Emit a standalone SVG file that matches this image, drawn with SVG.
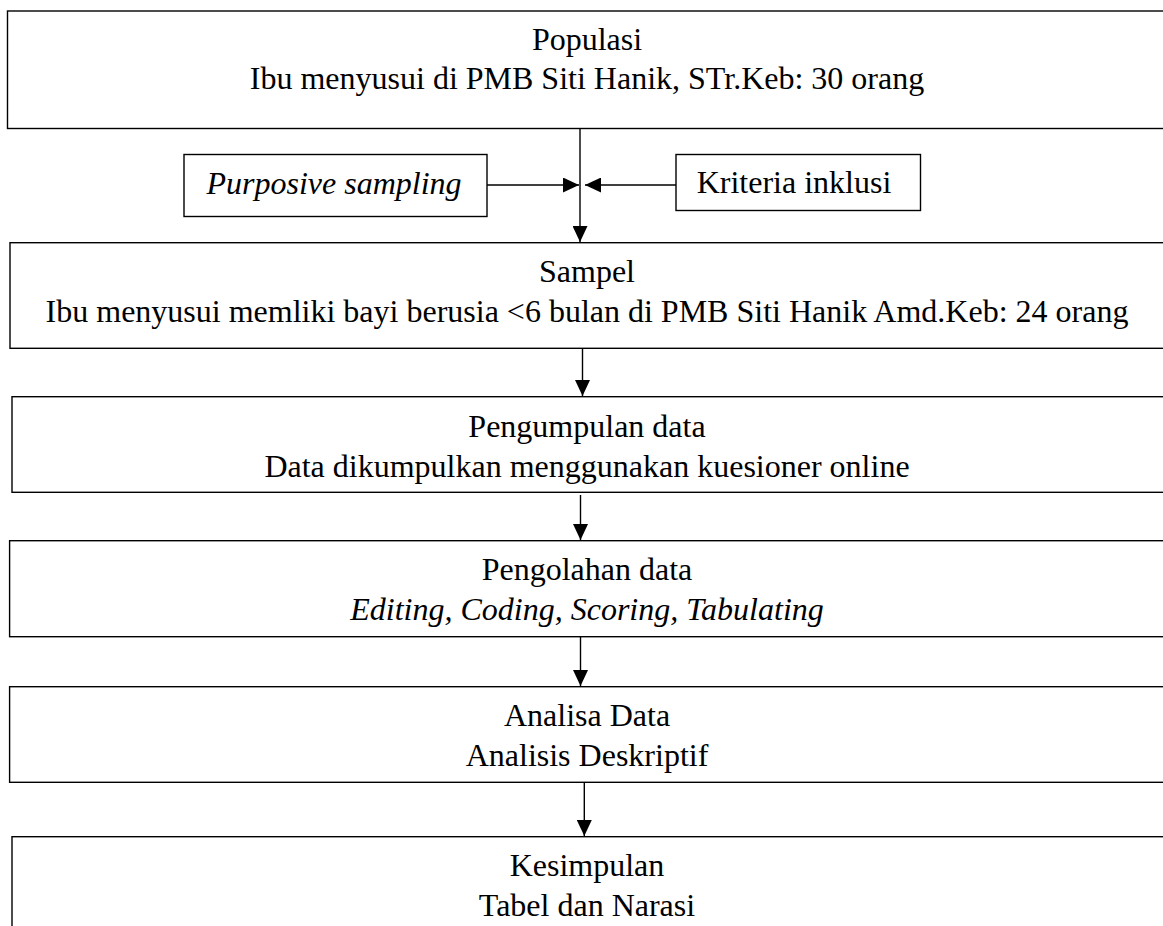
<svg xmlns="http://www.w3.org/2000/svg" width="1163" height="926" viewBox="0 0 1163 926">
<style>
  .box { fill: #ffffff; stroke: #000000; stroke-width: 1.4; }
  .t { font-family: "Liberation Serif", "Times New Roman", serif; font-size: 32px; fill: #000000; text-anchor: middle; }
  .i { font-style: italic; }
  .edge { stroke: #000000; stroke-width: 1.4; fill: none; marker-end: url(#arr); }
</style>
<defs>
  <marker id="arr" markerUnits="userSpaceOnUse" markerWidth="16" markerHeight="15" refX="16" refY="7.5" orient="auto">
    <path d="M0,0 L16,7.5 L0,15 Z" fill="#000000"/>
  </marker>
</defs>
<rect width="1163" height="926" fill="#ffffff"/>

<g id="populasi">
  <rect class="box" x="7.5" y="11" width="1165" height="117.5"/>
  <text class="t" x="587" y="50">Populasi</text>
  <text class="t" x="587" y="89">Ibu menyusui di PMB Siti Hanik, STr.Keb: 30 orang</text>
</g>

<g id="purposive">
  <rect class="box" x="184" y="154.5" width="303" height="62"/>
  <text class="t i" x="334" y="194">Purposive sampling</text>
</g>

<g id="kriteria">
  <rect class="box" x="676" y="154.5" width="244.5" height="56"/>
  <text class="t" x="794" y="193">Kriteria inklusi</text>
</g>

<g id="sampel">
  <rect class="box" x="10" y="242.7" width="1165" height="105.6"/>
  <text class="t" x="587" y="282">Sampel</text>
  <text class="t" x="587" y="322">Ibu menyusui memliki bayi berusia &lt;6 bulan di PMB Siti Hanik Amd.Keb: 24 orang</text>
</g>

<g id="pengumpulan">
  <rect class="box" x="12" y="396.7" width="1165" height="95.6"/>
  <text class="t" x="587" y="436.5">Pengumpulan data</text>
  <text class="t" x="587" y="476.5">Data dikumpulkan menggunakan kuesioner online</text>
</g>

<g id="pengolahan">
  <rect class="box" x="9.6" y="540.7" width="1165" height="96"/>
  <text class="t" x="587" y="580">Pengolahan data</text>
  <text class="t i" x="587" y="620">Editing, Coding, Scoring, Tabulating</text>
</g>

<g id="analisa">
  <rect class="box" x="9.6" y="686.7" width="1165" height="95.6"/>
  <text class="t" x="587" y="726">Analisa Data</text>
  <text class="t" x="587" y="765.5">Analisis Deskriptif</text>
</g>

<g id="kesimpulan">
  <rect class="box" x="12" y="836.7" width="1165" height="120"/>
  <text class="t" x="587" y="876">Kesimpulan</text>
  <text class="t" x="587" y="915.5">Tabel dan Narasi</text>
</g>

<g id="connectors">
  <line class="edge" x1="580" y1="128.5" x2="580" y2="242"/>
  <line class="edge" x1="487" y1="185" x2="579" y2="185"/>
  <line class="edge" x1="676" y1="185" x2="585" y2="185"/>
  <line class="edge" x1="582.5" y1="348.3" x2="582.5" y2="396"/>
  <line class="edge" x1="580.5" y1="495" x2="580.5" y2="540"/>
  <line class="edge" x1="580.5" y1="636" x2="580.5" y2="686"/>
  <line class="edge" x1="584.3" y1="782.3" x2="584.3" y2="836"/>
</g>
</svg>
